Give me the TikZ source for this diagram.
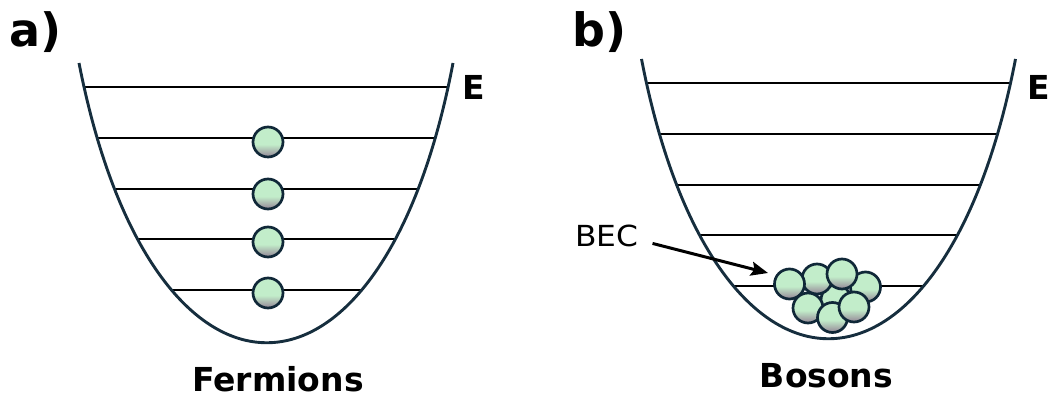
\documentclass[tikz,border=0pt]{standalone}
\usepackage{fontspec}
\setmainfont{DejaVu Sans}
\newfontfamily\becfont[FakeStretch=1.08]{DejaVu Sans}
\usetikzlibrary{arrows.meta}
\definecolor{wellcol}{RGB}{22,46,62}
\definecolor{ballgreen}{RGB}{194,237,202}
\definecolor{ballgray}{RGB}{152,142,154}
\definecolor{ballline}{RGB}{16,40,56}
\pgfdeclareverticalshading{ballshade}{100bp}{color(0bp)=(ballgray); color(27bp)=(ballgray);
  color(46bp)=(ballgreen); color(100bp)=(ballgreen)}

\begin{document}
\begin{tikzpicture}[x=1pt,y=1pt,
    well/.style={wellcol,line width=2.9pt},
    level/.style={black,line width=2.4pt},
    ball/.style={circle,draw=ballline,line width=2.7pt,minimum size=30pt,inner sep=0pt,
      shade,shading=ballshade},
    lbl/.style={font=\fontsize{33}{36}\selectfont\bfseries,inner sep=0pt},
    tag/.style={font=\fontsize{46}{50}\selectfont\bfseries,inner sep=0pt,anchor=base west}]
  \useasboundingbox (0,0) rectangle (1049,398);
  % a) fermions
  \begin{scope}
    \clip (79,335) .. controls (152,-38) and (382,-38) .. (453,335) -- cycle;
    \foreach \y in {311,260,209,159,108}
      \draw[level] (60,\y) -- (480,\y);
  \end{scope}
  \draw[well] (79,335) .. controls (152,-38) and (382,-38) .. (453,335);
  \node[ball] (f1) at (268,256) {};
  \node[ball] (f2) at (268,204) {};
  \node[ball] (f3) at (268,156) {};
  \node[ball] (f4) at (268,105) {};
  \node[tag] (ta) at (9,351) {a)};
  \node[lbl,anchor=base west] (ea) at (462,298) {E};
  \node[lbl,anchor=base] (ferm) at (278,6) {Fermions};
  % b) bosons
  \begin{scope}
    \clip (641.5,339) .. controls (713.5,-34) and (943.5,-34) .. (1015.5,339) -- cycle;
    \foreach \y in {315,264,213,163,112}
      \draw[level] (620,\y) -- (1040,\y);
  \end{scope}
  \draw[well] (641.5,339) .. controls (713.5,-34) and (943.5,-34) .. (1015.5,339);
  \node[ball] (b5) at (836,98) {};
  \node[ball] (b2) at (817,119) {};
  \node[ball] (b4) at (865.5,111) {};
  \node[ball] (b1) at (789.5,114) {};
  \node[ball] (b3) at (842,124) {};
  \node[ball] (b6) at (808,90) {};
  \node[ball] (b7) at (832.5,80.5) {};
  \node[ball] (b8) at (854,91) {};
  \node[tag] (tb) at (572,351) {b)};
  \node[lbl,anchor=base west] (eb) at (1027,298) {E};
  \node[lbl,anchor=base] (bos) at (826.5,10) {Bosons};
  \node[font=\becfont\fontsize{29}{31}\selectfont,anchor=base west,inner sep=0pt] (bec) at (575,151) {BEC};
  \coordinate (tip) at (768,125);
  \draw[line width=3pt,-{Stealth[length=17pt,width=14pt,inset=3pt]}] ([shift={(14,-7)}]bec.east) -- (tip);
\end{tikzpicture}
\end{document}
